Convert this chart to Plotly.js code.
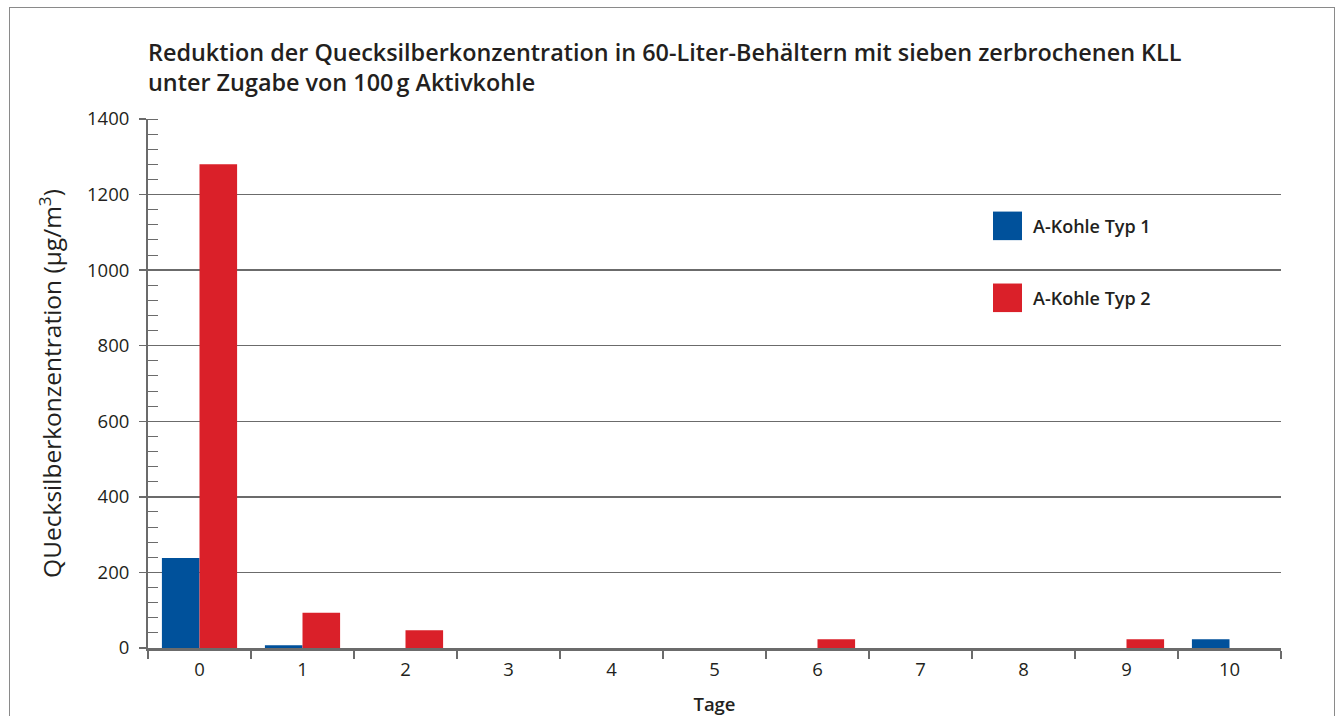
<!DOCTYPE html>
<html>
<head>
<meta charset="utf-8">
<script src="https://cdn.plot.ly/plotly-3.0.1.min.js"></script>
<style>
  html, body { margin: 0; padding: 0; background: #fff; }
  #wrap { position: relative; width: 1339px; height: 716px; overflow: hidden; }
  #frame { position: absolute; left: 9px; top: 7px; width: 1326px; height: 720px; border: 1.5px solid #8a8a8a; box-sizing: border-box; pointer-events: none; }
  #chart { position: absolute; left: 0; top: 0; width: 1339px; height: 716px; }
</style>
</head>
<body>
<div id="wrap">
  <div id="chart"></div>
  <div id="frame"></div>
</div>
<script>
// ---- data ----
const days = ["0", "1", "2", "3", "4", "5", "6", "7", "8", "9", "10"];
const seriesNames = ["A-Kohle Typ 1", "A-Kohle Typ 2"];
const typ1 = [238, 7, 0, 0, 0, 0, 0, 0, 0, 0, 23];
const typ2 = [1280, 93, 47, 0, 0, 0, 23, 0, 0, 23, 0];
const yTicks = [0, 200, 400, 600, 800, 1000, 1200, 1400];
const titleText = "Reduktion der Quecksilberkonzentration in 60-Liter-Behältern mit sieben zerbrochenen KLL<br>unter Zugabe von 100\u202Fg Aktivkohle";
const xTitle = "Tage";
const yTitle = "QUecksilberkonzentration (µg/m<sup>3</sup>)";

const colors = ["#00519b", "#da2029"];
const FONT = "Open Sans, Noto Sans, sans-serif";
const TXT = "#231f20";

const traces = [typ1, typ2].map((vals, i) => ({
  type: "bar",
  name: seriesNames[i],
  x: days,
  y: vals,
  marker: { color: colors[i], line: { width: 0 } },
  showlegend: false,
  hoverinfo: "x+y+name"
}));

// legend drawn as squares + labels in paper coordinates
const legendPos = [
  { y0: 0.771, y1: 0.825, ty: 0.798 },
  { y0: 0.635, y1: 0.689, ty: 0.662 }
];
const shapes = legendPos.map((p, i) => ({
  type: "rect", xref: "paper", yref: "paper",
  x0: 0.7458, x1: 0.7714, y0: p.y0, y1: p.y1,
  fillcolor: colors[i], line: { width: 0 }
}));
const annotations = legendPos.map((p, i) => ({
  xref: "paper", yref: "paper", x: 0.779, y: p.ty,
  xanchor: "left", yanchor: "middle", showarrow: false,
  text: seriesNames[i],
  font: { family: FONT, size: 18, color: TXT, weight: 600 }
}));

const layout = {
  width: 1339, height: 716,
  margin: { l: 148, r: 58, t: 119, b: 68, pad: 0 },
  paper_bgcolor: "rgba(0,0,0,0)",
  plot_bgcolor: "#ffffff",
  barmode: "group",
  bargap: 0.27,
  bargroupgap: 0,
  title: {
    text: titleText,
    xref: "container", yref: "container",
    x: 148 / 1339, xanchor: "left",
    y: 1 - 61 / 716, yanchor: "middle",
    font: { family: FONT, size: 23.4, color: TXT, weight: 600 }
  },
  xaxis: {
    type: "category",
    categoryorder: "array", categoryarray: days,
    tickson: "boundaries",
    ticks: "outside", ticklen: 8, tickwidth: 1.3, tickcolor: "#6b6b6b",
    ticklabelstandoff: 3,
    showline: true, linecolor: "#6b6b6b", linewidth: 3,
    showgrid: false, zeroline: false,
    tickfont: { family: FONT, size: 18.5, color: TXT },
    title: { text: xTitle, standoff: 19, font: { family: FONT, size: 18.5, color: TXT, weight: 600 } },
    fixedrange: true
  },
  yaxis: {
    range: [0, 1400],
    tickmode: "array", tickvals: yTicks, ticktext: yTicks.map(String),
    ticks: "outside", ticklen: 7, tickwidth: 1.3, tickcolor: "#6b6b6b",
    ticklabelstandoff: 6,
    showline: true, linecolor: "#6b6b6b", linewidth: 2,
    showgrid: true, gridcolor: "#6b6b6b", gridwidth: 1.3,
    zeroline: false,
    minor: { dtick: 40, ticks: "inside", ticklen: 10, tickwidth: 1, tickcolor: "#6b6b6b", showgrid: false },
    tickfont: { family: FONT, size: 18.5, color: TXT },
    title: { text: yTitle, standoff: 18, font: { family: FONT, size: 24.5, color: TXT } },
    fixedrange: true
  },
  shapes: shapes,
  annotations: annotations
};

Plotly.newPlot("chart", traces, layout, { displayModeBar: false, staticPlot: true });
</script>
</body>
</html>
